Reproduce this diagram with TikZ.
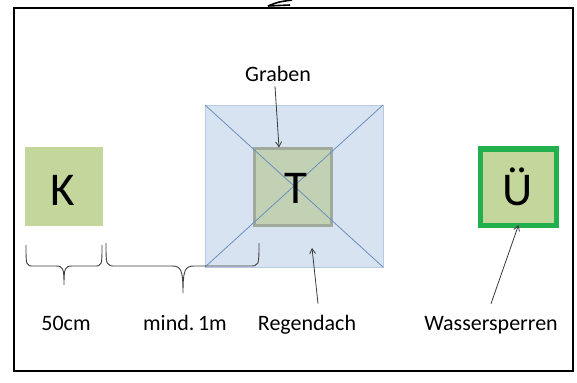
\documentclass[tikz,border=0pt]{standalone}
\usepackage{fontspec}
\setmainfont{Carlito}
\usetikzlibrary{arrows.meta,calc}

\definecolor{beetgreen}{HTML}{C3D69B}
\definecolor{trenchfill}{HTML}{C2D1B4}
\definecolor{trenchedge}{HTML}{A0A99C}
\definecolor{roofblue}{HTML}{D8E3F1}
\definecolor{roofedge}{HTML}{B6CAE3}
\definecolor{ridgeblue}{HTML}{6A8FBE}
\definecolor{barrier}{HTML}{22B04E}
\definecolor{pointer}{HTML}{3A3A3A}

\tikzset{
  label22/.style={font=\fontsize{22}{24}\selectfont, inner sep=0pt, anchor=base},
  bigletter/.style={font=\fontsize{47}{50}\selectfont, inner sep=0pt, anchor=base},
  plotbox/.style={minimum width=#1, minimum height=#1, inner sep=0pt, outer sep=0pt},
  pointerline/.style={draw=pointer, line width=0.8pt, -{Straight Barb[length=5pt,width=6pt]}},
  bracestroke/.style={draw=black!75, line width=0.9pt},
}

\begin{document}
\begin{tikzpicture}[x=1pt,y=-1pt]
  \useasboundingbox (0,0) rectangle (577,382);
  \fill[white] (0,0) rectangle (577,382);

  % outer frame
  \draw[line width=2pt] (14,8) rectangle (573,371);
  % small stroke poking in above the frame
  \draw[line width=1.6pt] (268,6) -- (290,5);
  \draw[line width=1.6pt] (268,6) .. controls (278,2) .. (292,0);

  % rain roof over the bed
  \node[fill=roofblue, draw=roofedge, line width=0.6pt, minimum width=178, minimum height=162,
        inner sep=0pt, outer sep=0pt] (dach) at (294,186) {};

  % trench around the bed
  \node[plotbox=77, fill=trenchfill, draw=trenchedge, line width=3pt] (T) at (293,187) {};
  \draw[ridgeblue, line width=0.8pt] (dach.north west) -- (dach.south east);
  \draw[ridgeblue, line width=0.8pt] (dach.north east) -- (dach.south west);
  \node[bigletter] (Tl) at (296,203) {T};

  % plain bed
  \node[plotbox=78, fill=beetgreen] (K) at (64,186.5) {};
  \node[bigletter] (Kl) at (63,205) {K};

  % bed with water barrier
  \node[plotbox=76, fill=beetgreen, draw=barrier, line width=5pt] (U) at (518.5,187) {};
  \node[bigletter] (Ul) at (518,205) {Ü};

  % distance braces
  \coordinate (b1a) at (26,245);
  \coordinate (b1b) at (102,245);
  \coordinate (b1t) at (64,285);
  \draw[bracestroke] (b1a) .. controls (26,266) and (26,266) .. (34,266) -- (56,266)
        .. controls (63,266) and (64,268) .. (b1t)
        .. controls (64,268) and (65,266) .. (72,266) -- (94,266)
        .. controls (102,266) and (102,266) .. (b1b);
  \coordinate (b2a) at (106,243);
  \coordinate (b2b) at (259,243);
  \coordinate (b2t) at (183,293);
  \draw[bracestroke] (b2a) .. controls (106,266) and (106,266) .. (116,266) -- (172,266)
        .. controls (181,266) and (183,270) .. (b2t)
        .. controls (183,270) and (185,266) .. (194,266) -- (249,266)
        .. controls (259,266) and (259,266) .. (b2b);

  % labels
  \node[label22] (l50) at (66,330) {50cm};
  \node[label22] (lmind) at (185,330) {mind.\,1m};
  \node[label22] (lregen) at (307,330) {Regendach};
  \node[label22] (lwasser) at (491,330) {Wassersperren};
  \node[label22] (lgraben) at (278,82) {Graben};

  % pointers
  \coordinate (gtip) at ($(T.north)+(-14,-1)$);
  \draw[pointerline] ($(lgraben.south)+(-3,4)$) -- (gtip);
  \coordinate (rtip) at (312,248);
  \draw[pointerline] ($(lregen.north)+(11,-11)$) -- (rtip);
  \draw[pointerline] ($(lwasser.north)+(0,-12)$) -- (U.south);
\end{tikzpicture}
\end{document}
